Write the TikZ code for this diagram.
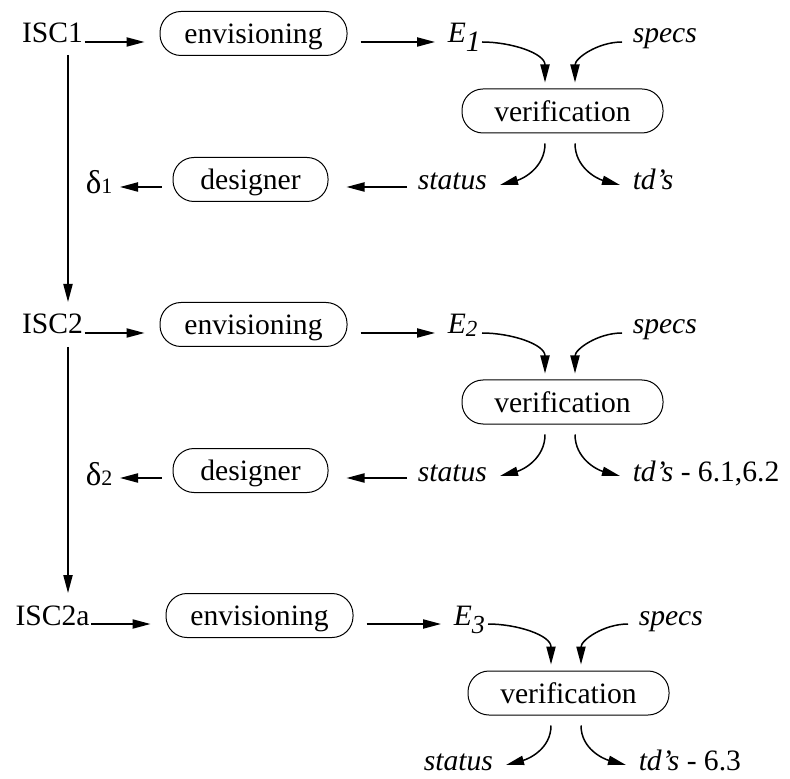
\documentclass[tikz,border=0pt]{standalone}
\usepackage{fontspec}
\setmainfont{Liberation Serif}
\usetikzlibrary{arrows.meta}
% E with a lowered index: #1 lowering, #2 index size, #3 index
\newcommand\Esub[3]{\textit{E}\raisebox{#1}{\fontsize{#2}{#2}\selectfont\textit{#3}}}
% delta with a small index on the baseline
\newcommand\dsub[1]{{\fontsize{16.5}{17}\selectfont δ}{\fontsize{11}{11}\selectfont #1}}

\begin{document}
\begin{tikzpicture}[x=0.5pt,y=-0.5pt,
  font=\fontsize{14.8}{17}\selectfont,
  line width=0.75pt,
  arr/.style={-{Triangle[length=9pt,width=4.6pt]}},
  proc/.style={draw,line width=0.5pt,rounded corners=10.5pt,minimum height=22pt,inner sep=0pt,text depth=0pt},
  txt/.style={inner sep=0pt,anchor=base west},
  iscl/.style={inner sep=0pt,anchor=base}]
\useasboundingbox (0,0) rectangle (790,779);

% iteration labels down the left side
\node[iscl] (isc1) at (52.5,43) {ISC1};
\node[iscl] (isc2) at (52.5,334) {ISC2};
\node[iscl] (isc3) at (52.5,625) {ISC2a};

\draw[arr] ([xshift=7.75pt,yshift=-6pt]isc1.base) -- ([xshift=7.75pt,yshift=16pt]isc2.base);
\draw[arr] ([xshift=7.75pt,yshift=-6.5pt]isc2.base) -- ([xshift=7.75pt,yshift=16pt]isc3.base);

% ---------- first iteration
\node[proc,minimum width=93.5pt] (env1) at (253.5,33.5) {envisioning};
\node[txt] (e1) at (447,43) {\Esub{-4.5pt}{14.8}{1}};
\node[txt] (sp1) at (632,43) {\textit{specs}};
\node[proc,minimum width=100.5pt] (ver1) at (562.5,111) {verification};
\node[txt] (st1) at (417,190) {\textit{status}};
\node[txt] (td1) at (632,190) {\textit{td’s}};
\node[proc,minimum width=77.5pt] (des1) at (250.5,179.5) {designer};
\node[txt] (d1) at (85,194) {\dsub{1}};

\coordinate (a1) at ([xshift=0.5pt,yshift=0.5pt]isc1.base east);
\draw[arr] (a1) -- ([xshift=-7.5pt]a1 -| env1.west);
\coordinate (b1) at ([xshift=-6pt,yshift=0.5pt]e1.base west);
\draw[arr] ([xshift=6.5pt]b1 -| env1.east) -- (b1);
\draw[arr] ([xshift=17.5pt,yshift=0.5pt]e1.base west) to[out=0,in=90] ([xshift=-8.75pt,yshift=3pt]ver1.north);
\draw[arr] ([xshift=-5pt,yshift=0.5pt]sp1.base west) to[out=180,in=90] ([xshift=6.25pt,yshift=3pt]ver1.north);
\draw[arr] ([xshift=-8.75pt,yshift=-5pt]ver1.south) to[out=-90,in=15] ([xshift=41.5pt,yshift=2.5pt]st1.base west);
\draw[arr] ([xshift=6.25pt,yshift=-5pt]ver1.south) to[out=-90,in=165] ([xshift=-6pt,yshift=2.5pt]td1.base west);
\coordinate (c1) at ([xshift=-5pt,yshift=1.5pt]st1.base west);
\draw[arr] (c1) -- ([xshift=9pt]c1 -| des1.east);
\draw[arr] ([xshift=-5.5pt]c1 -| des1.west) -- ([xshift=17.5pt]c1 -| d1.base west);

% ---------- second iteration
\begin{scope}[shift={(0,291)}]
\node[proc,minimum width=93.5pt] (env2) at (253.5,33.5) {envisioning};
\node[txt] (e2) at (447,43) {\Esub{-1.5pt}{11.5}{2}};
\node[txt] (sp2) at (632,43) {\textit{specs}};
\node[proc,minimum width=100.5pt] (ver2) at (562.5,111) {verification};
\node[txt] (st2) at (417,190) {\textit{status}};
\node[txt] (td2) at (632,190) {\textit{td’s} - 6.1,6.2};
\node[proc,minimum width=77.5pt] (des2) at (250.5,179.5) {designer};
\node[txt] (d2) at (85,194) {\dsub{2}};
\end{scope}

\coordinate (a2) at ([xshift=0.5pt,yshift=0.5pt]isc2.base east);
\draw[arr] (a2) -- ([xshift=-7.5pt]a2 -| env2.west);
\coordinate (b2) at ([xshift=-6pt,yshift=0.5pt]e2.base west);
\draw[arr] ([xshift=6.5pt]b2 -| env2.east) -- (b2);
\draw[arr] ([xshift=17.5pt,yshift=0.5pt]e2.base west) to[out=0,in=90] ([xshift=-8.75pt,yshift=3pt]ver2.north);
\draw[arr] ([xshift=-5pt,yshift=0.5pt]sp2.base west) to[out=180,in=90] ([xshift=6.25pt,yshift=3pt]ver2.north);
\draw[arr] ([xshift=-8.75pt,yshift=-5pt]ver2.south) to[out=-90,in=15] ([xshift=41.5pt,yshift=2.5pt]st2.base west);
\draw[arr] ([xshift=6.25pt,yshift=-5pt]ver2.south) to[out=-90,in=165] ([xshift=-6pt,yshift=2.5pt]td2.base west);
\coordinate (c2) at ([xshift=-5pt,yshift=1.5pt]st2.base west);
\draw[arr] (c2) -- ([xshift=9pt]c2 -| des2.east);
\draw[arr] ([xshift=-5.5pt]c2 -| des2.west) -- ([xshift=17.5pt]c2 -| d2.base west);

% ---------- third iteration
\begin{scope}[shift={(6,582)}]
\node[proc,minimum width=93.5pt] (env3) at (253.5,33.5) {envisioning};
\node[txt] (e3) at (447,43) {\Esub{-4pt}{13}{3}};
\node[txt] (sp3) at (632,43) {\textit{specs}};
\node[proc,minimum width=100.5pt] (ver3) at (562.5,111) {verification};
\node[txt] (st3) at (417,188) {\textit{status}};
\node[txt] (td3) at (632,188) {\textit{td’s} - 6.3};
\end{scope}

\coordinate (a3) at ([xshift=0.5pt,yshift=0.5pt]isc3.base east);
\draw[arr] (a3) -- ([xshift=-7.5pt]a3 -| env3.west);
\coordinate (b3) at ([xshift=-6pt,yshift=0.5pt]e3.base west);
\draw[arr] ([xshift=6.5pt]b3 -| env3.east) -- (b3);
\draw[arr] ([xshift=17.5pt,yshift=0.5pt]e3.base west) to[out=0,in=90] ([xshift=-8.75pt,yshift=3pt]ver3.north);
\draw[arr] ([xshift=-5pt,yshift=0.5pt]sp3.base west) to[out=180,in=90] ([xshift=6.25pt,yshift=3pt]ver3.north);
\draw[arr] ([xshift=-8.75pt,yshift=-5pt]ver3.south) to[out=-90,in=15] ([xshift=41.5pt,yshift=2.5pt]st3.base west);
\draw[arr] ([xshift=6.25pt,yshift=-5pt]ver3.south) to[out=-90,in=165] ([xshift=-6pt,yshift=2.5pt]td3.base west);
\end{tikzpicture}
\end{document}
